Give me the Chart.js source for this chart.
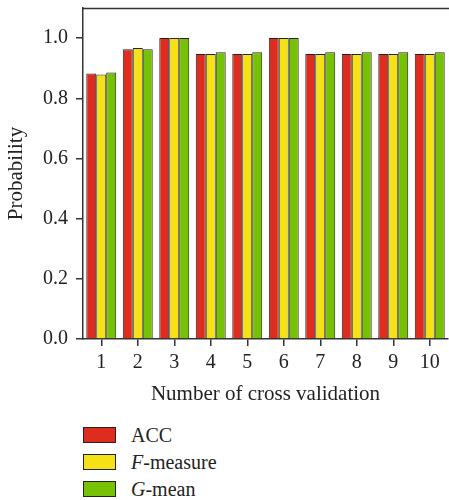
<!DOCTYPE html>
<html>
<head>
<meta charset="utf-8">
<script src="https://cdn.jsdelivr.net/npm/chart.js@4.4.1/dist/chart.umd.min.js"></script>
<style>
  html, body { margin: 0; padding: 0; background: #fff; }
  #wrap { position: relative; width: 449px; height: 500px; }
  #chart { position: absolute; left: 0; top: 0; }
  #legend { position: absolute; left: 83px; top: 427px; font-family: "Liberation Serif", "DejaVu Serif", serif; font-size: 20px; color: #222; }
  .item { height: 27px; display: flex; align-items: flex-start; }
  .box { width: 31px; height: 14px; border: 1px solid #222; margin-right: 15px; flex: none; }
  .lbl { line-height: 17px; }
</style>
</head>
<body>
<div id="wrap">
  <canvas id="chart" width="449" height="410"></canvas>
  <div id="legend"></div>
</div>
<script>
/* ---------------- data ---------------- */
var folds = ["1", "2", "3", "4", "5", "6", "7", "8", "9", "10"];
var accValues  = [0.882, 0.963, 1.0, 0.947, 0.947, 1.0, 0.947, 0.947, 0.947, 0.947];
var fValues    = [0.879, 0.967, 1.0, 0.947, 0.947, 1.0, 0.947, 0.947, 0.947, 0.947];
var gValues    = [0.886, 0.963, 1.0, 0.953, 0.953, 1.0, 0.953, 0.953, 0.953, 0.953];
var seriesNames = ["ACC", "<i>F</i>-measure", "<i>G</i>-mean"];
var yTicks = [0, 0.2, 0.4, 0.6, 0.8, 1.0];

/* ---------------- palette ---------------- */
var colors = {
  acc:   "#de2d1e",
  f:     "#f5e116",
  g:     "#76c101",
  edge:  "#222222",
  text:  "#222222",
};
var FONT = "'Liberation Serif', 'DejaVu Serif', serif";

// top frame line of the plot
var topBorder = {
  id: "topBorder",
  afterDraw: function (chart) {
    var a = chart.chartArea, ctx = chart.ctx;
    ctx.save();
    ctx.strokeStyle = "#333";
    ctx.lineWidth = 1.5;
    ctx.beginPath();
    ctx.moveTo(a.left, a.top + 0.5);
    ctx.lineTo(chart.width, a.top + 0.5);
    ctx.stroke();
    ctx.restore();
  },
};

function bar(label, data, color) {
  return {
    label: label, data: data, backgroundColor: color,
    borderColor: colors.edge, borderWidth: 1, borderSkipped: "bottom",
    categoryPercentage: 0.82, barPercentage: 1.0,
  };
}

var chart = new Chart(document.getElementById("chart"), {
  type: "bar",
  data: {
    labels: folds,
    datasets: [
      bar(seriesNames[0], accValues, colors.acc),
      bar(seriesNames[1], fValues, colors.f),
      bar(seriesNames[2], gValues, colors.g),
    ],
  },
  options: {
    responsive: false,
    animation: false,
    layout: { padding: { top: 8, right: 1, bottom: 0, left: 0 } },
    plugins: { legend: { display: false }, tooltip: { enabled: false } },
    scales: {
      x: {
        grid: { display: true, drawOnChartArea: false, offset: false, tickLength: 7, color: "#333", lineWidth: 1.5 },
        border: { display: true, color: "#333", width: 1.5 },
        ticks: { color: colors.text, font: { family: FONT, size: 20 }, padding: 5 },
        title: { display: true, text: "Number of cross validation", color: colors.text, font: { family: FONT, size: 21 }, padding: { top: 2, bottom: 3 } },
        afterFit: function (s) { s.height = 71; s.paddingLeft = 0; s.paddingRight = 0; },
      },
      y: {
        min: 0, max: 1.1,
        grid: { display: true, drawOnChartArea: false, tickLength: 7, color: "#333", lineWidth: 1.5 },
        border: { display: true, color: "#333", width: 1.5 },
        afterBuildTicks: function (s) { s.ticks = yTicks.map(function (v) { return { value: v }; }); },
        ticks: {
          color: colors.text, font: { family: FONT, size: 20 }, padding: 8,
          callback: function (v) { return Number(v).toFixed(1); },
        },
        title: { display: true, text: "Probability", color: colors.text, font: { family: FONT, size: 21 }, padding: { top: 4, bottom: 4 } },
        afterFit: function (s) { s.width = 83; s.paddingTop = 0; s.paddingBottom = 0; },
      },
    },
  },
  plugins: [topBorder],
});

// legend built from the chart's datasets
var legend = document.getElementById("legend");
chart.data.datasets.forEach(function (ds) {
  var row = document.createElement("div");
  row.className = "item";
  row.innerHTML = '<div class="box" style="background:' + ds.backgroundColor + '"></div><div class="lbl">' + ds.label + "</div>";
  legend.appendChild(row);
});
</script>
</body>
</html>
